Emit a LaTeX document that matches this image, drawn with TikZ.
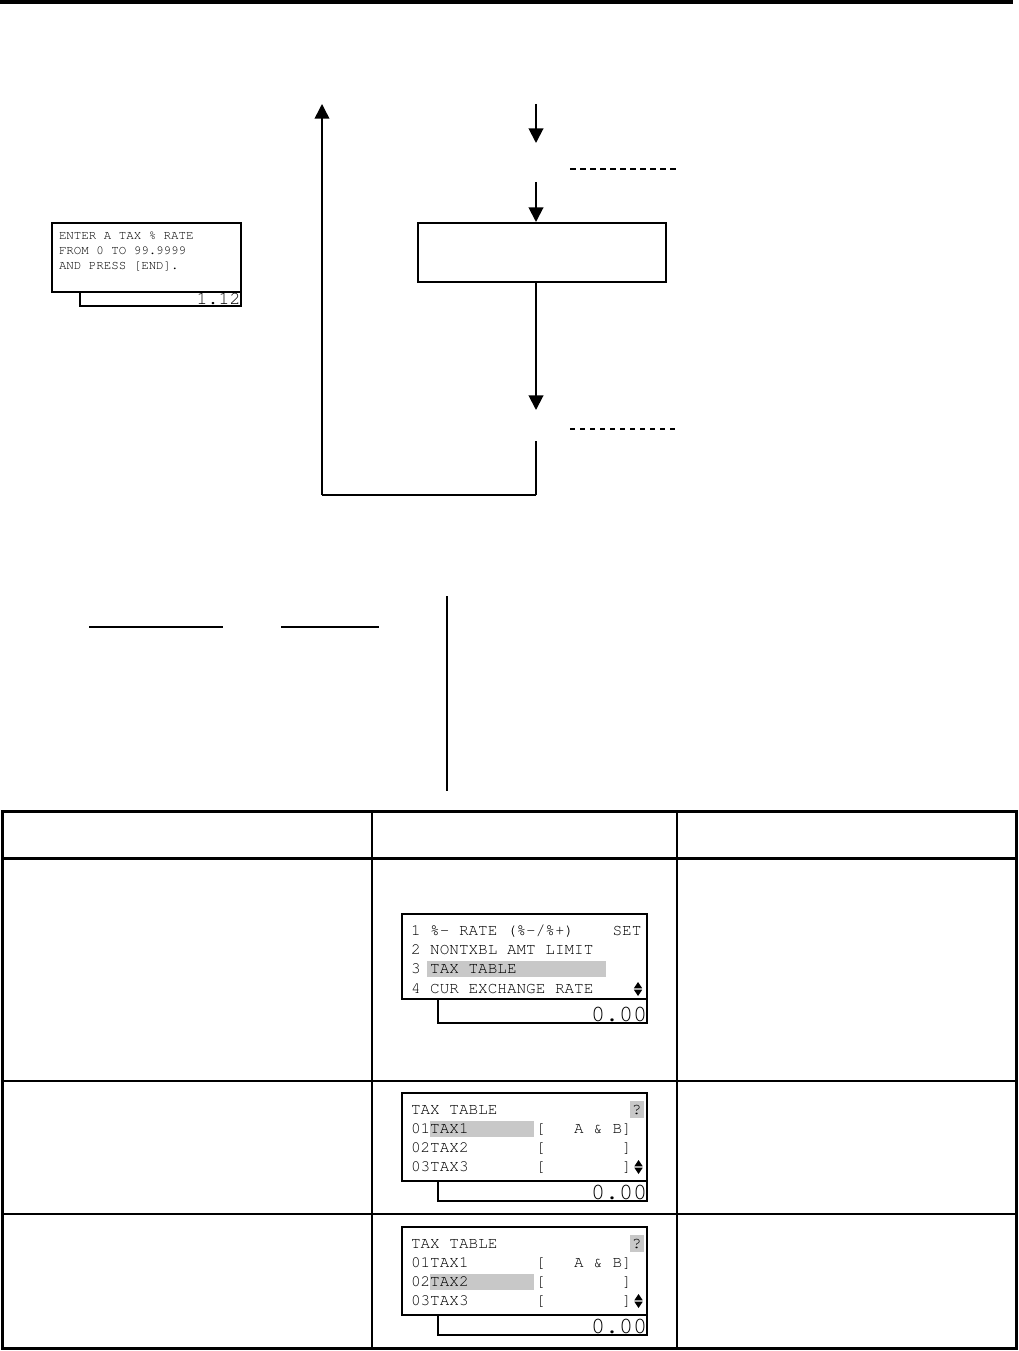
\documentclass[tikz,border=0pt]{standalone}
\usepackage[T1,TU]{fontenc}
\usetikzlibrary{arrows.meta}
\definecolor{hl}{RGB}{200,200,200}
\newcommand\lcdf[1]{\fontencoding{T1}\fontfamily{pcr}\fontseries{m}\fontshape{n}\fontsize{#1}{#1}\selectfont}
\newcommand\udsym[2]{%
  \fill (#1-4.2,#2-0.7) -- (#1+4.2,#2-0.7) -- (#1,#2-7) -- cycle;
  \fill (#1-4.2,#2+0.7) -- (#1+4.2,#2+0.7) -- (#1,#2+7) -- cycle;}
\newcommand\dispbox[3]{%
  \draw[disp] (402,#1) rectangle (647,#2);
  \draw[disp] (438,#2) -- (438,#3) -- (647,#3) -- (647,#2);}
\tikzset{
  lcd/.style={font=\lcdf{12}, anchor=base west, inner sep=0pt, outer sep=0pt},
  lcdsm/.style={font=\lcdf{9.35}, anchor=base west, inner sep=0pt, outer sep=0pt},
  lcdbig/.style={font=\lcdf{17.5}, anchor=base east, inner sep=0pt, outer sep=0pt},
  lcdmid/.style={font=\lcdf{13.7}, anchor=base east, inner sep=0pt, outer sep=0pt},
  disp/.style={line width=1pt},
  flow/.style={line width=1.5pt},
  thinflow/.style={line width=1.1pt},
  tipped/.style={-{Triangle[length=11pt,width=11pt]}},
  dashA/.style={line width=1.5pt, dash pattern=on 4.5pt off 3pt},
  dashB/.style={line width=1pt, dash pattern=on 4pt off 3.5pt},
  tblouter/.style={line width=2.25pt},
  tblrow/.style={line width=1.5pt},
  tblcol/.style={line width=1pt},
}
\begin{document}
\begin{tikzpicture}[x=0.75pt,y=-0.75pt]
\useasboundingbox (0,0) rectangle (1019,1351);
% top bar
\fill (0,0) rectangle (1013,4);

% ---------- flowchart ----------
\coordinate (upTop) at (322,104);
\coordinate (loopL) at (322,495);
\coordinate (loopR) at (536,495);
\coordinate (tailTop) at (536,441);
\coordinate (a1s) at (536,104);
\coordinate (a1e) at (536,143);
\coordinate (a2s) at (536,182);
\coordinate (a3e) at (536,410);
\coordinate (d1a) at (570,169);
\coordinate (d1b) at (678,169);
\coordinate (d2a) at (570,429);
\coordinate (d2b) at (678,429);
\node[draw, line width=1.5pt, minimum width=186pt, minimum height=44.25pt, inner sep=0pt] (box) at (542,252.5) {};

\draw[flow, tipped] (a1s) -- (a1e);
\draw[flow, tipped] (a2s) -- (a2s |- box.north);
\draw[flow, tipped] (a2s |- box.south) -- (a3e);
\draw[dashA] (d1a) -- (d1b);
\draw[dashB] (d2a) -- (d2b);
\draw[thinflow] (tailTop) -- (loopR);
\draw[flow] (loopR) -- (loopL);
\draw[thinflow, tipped] (loopL) -- (upTop);

% ---------- small display ----------
\draw[disp] (52,223) rectangle (241,292);
\draw[disp] (80,292) -- (80,306) -- (241,306) -- (241,292);
\node[lcdsm] (s1) at (59,239.5) {ENTER A TAX \% RATE};
\node[lcdsm] (s2) at (59,254.5) {FROM 0 TO 99.9999};
\node[lcdsm] (s3) at (59,269.5) {AND PRESS [END].};
\node[lcdmid] (s4) at (240.5,305) {1.12};

% ---------- middle section ----------
\coordinate (u1a) at (89,627);
\coordinate (u1b) at (223,627);
\coordinate (u2a) at (281,627);
\coordinate (u2b) at (379,627);
\coordinate (va) at (447,596);
\coordinate (vb) at (447,791);
\draw[line width=1.5pt] (u1a) -- (u1b);
\draw[line width=1.5pt] (u2a) -- (u2b);
\draw[line width=1pt] (va) -- (vb);

% ---------- table ----------
\draw[tblcol] (372,811) -- (372,1348);
\draw[tblcol] (677,811) -- (677,1348);
\draw[tblouter] (2.5,858) -- (1016,858);
\draw[tblrow] (2.5,1081) -- (1016,1081);
\draw[tblrow] (2.5,1214) -- (1016,1214);
\draw[tblouter] (2.5,811) rectangle (1016,1348);

% display 1
\fill[hl] (427,961) rectangle (606,977);
\dispbox{914}{999}{1023}
\node[lcd] (p1) at (411,935.5) {1 \%- RATE (\%-/\%+)};
\node[lcd] (p1s) at ({411+9.6*21},935.5) {SET};
\node[lcd] (p2) at (411,954.5) {2 NONTXBL AMT LIMIT};
\node[lcd] (p3) at (411,973.5) {3 TAX TABLE};
\node[lcd] (p4) at (411,993.5) {4 CUR EXCHANGE RATE};
\udsym{638}{989}
\node[lcdbig] (p5) at (647,1021.5) {0.00};

% display 2
\fill[hl] (430,1121) rectangle (534,1137);
\fill[hl] (630,1101) rectangle (644,1118);
\dispbox{1093}{1181}{1201}
\node[lcd] (q0) at (411,1114) {TAX TABLE};
\node[lcd] (q0q) at ({411+9.6*23},1114) {?};
\node[lcd] (q1) at (411,1133) {01TAX1};
\node[lcd] (q1b) at ({411+9.6*13},1133) {[};
\node[lcd] (q1c) at ({411+9.6*17},1133) {A \& B]};
\node[lcd] (q2) at (411,1152) {02TAX2};
\node[lcd] (q2b) at ({411+9.6*13},1152) {[};
\node[lcd] (q2c) at ({411+9.6*22},1152) {]};
\node[lcd] (q3) at (411,1171.5) {03TAX3};
\node[lcd] (q3b) at ({411+9.6*13},1171.5) {[};
\node[lcd] (q3c) at ({411+9.6*22},1171.5) {]};
\udsym{638.5}{1167}
\node[lcdbig] (q5) at (647,1199.5) {0.00};

% display 3
\fill[hl] (430,1274) rectangle (534,1290);
\fill[hl] (630,1235) rectangle (644,1252);
\dispbox{1227}{1315}{1335}
\node[lcd] (r0) at (411,1248) {TAX TABLE};
\node[lcd] (r0q) at ({411+9.6*23},1248) {?};
\node[lcd] (r1) at (411,1267) {01TAX1};
\node[lcd] (r1b) at ({411+9.6*13},1267) {[};
\node[lcd] (r1c) at ({411+9.6*17},1267) {A \& B]};
\node[lcd] (r2) at (411,1286) {02TAX2};
\node[lcd] (r2b) at ({411+9.6*13},1286) {[};
\node[lcd] (r2c) at ({411+9.6*22},1286) {]};
\node[lcd] (r3) at (411,1305.5) {03TAX3};
\node[lcd] (r3b) at ({411+9.6*13},1305.5) {[};
\node[lcd] (r3c) at ({411+9.6*22},1305.5) {]};
\udsym{638.5}{1301}
\node[lcdbig] (r5) at (647,1333.5) {0.00};
\end{tikzpicture}
\end{document}
